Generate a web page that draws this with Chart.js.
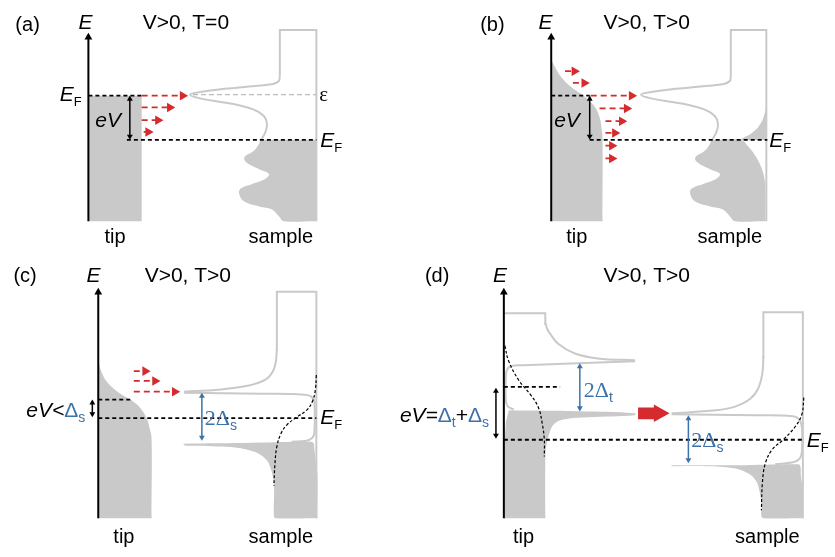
<!DOCTYPE html>
<html>
<head>
<meta charset="utf-8">
<script src="https://cdn.jsdelivr.net/npm/chart.js@4.4.1/dist/chart.umd.min.js"></script>
<style>
  html, body { margin: 0; padding: 0; background: #fff; }
  #wrap { width: 835px; height: 557px; }
</style>
</head>
<body>
<div id="wrap"><canvas id="dos" width="835" height="557"></canvas></div>
<script>
// ---- shapes, [x, y] in figure units (y grows downward) ----

// (a) V>0, T=0
const aTipFill = [[84,92],[138,92],[138,220],[84,220]];
const aSampleBox = [[278,72],[278,25],[315,25],[315,220]];
const aSampleDos = [[278,72],[277,77],[271,80],[253,82],[222,85],[199,88],[187,91],[198,95],[228,100],[251,106],[262,113],[265,121],[263,130],[259,137]];
const aSampleFill = [[258,137],[313,137],[315,137],[315,139],[315,218],[315,220],[313,220],[282,220],[277,215],[270,208],[257,205],[242,200],[237,193],[238,187],[250,182],[263,177],[267,172],[257,167],[244,160],[242,155],[252,148],[257,141]];
const aEpsLine = [[190,91],[315,91]];

// (b) V>0, T>0
const bTipFill = [[553,55],[557,63],[563,73],[573,83],[587,93],[597,103],[602,114],[604,125],[605,137],[605,218],[605,220],[603,220],[555,220],[553,220],[553,218]];
const bSampleBox = [[735,72],[735,25],[771,25],[771,220]];
const bSampleDos = [[735,72],[734,77],[728,80],[710,82],[679,85],[656,88],[644,91],[655,95],[685,100],[708,106],[719,113],[722,121],[720,130],[716,137]];
const bSampleFill = [[715,137],[745,137],[752,143],[759,152],[765,163],[769,176],[770,190],[770,218],[770,220],[768,220],[739,220],[734,215],[727,208],[714,205],[699,200],[694,193],[695,187],[707,182],[720,177],[724,172],[714,167],[701,160],[699,155],[709,148],[714,141]];
const bSampleTail = [[771,99],[770,107],[767,117],[762,125],[755,131],[745,137],[771,137]];

// (c) V>0, T>0, superconducting sample
const cTipFill = [[94,363],[97,373],[103,384],[115,395],[128,403],[137,411],[143,421],[146,431],[148,442],[148,521],[148,523],[146,523],[96,523],[94,523],[94,521]];
const cSampleBox = [[275,352],[275,292],[315,292],[315,523]];
const cSampleUpper = [[275,350],[274,363],[271,373],[263,382],[245,388],[215,392],[181,394]];
const cSampleGap = [[181,395],[260,396],[303,397],[310,399],[313,405],[313,436],[311,441],[305,444],[290,445]];
const cSampleFill = [[180,447],[250,446],[308,445],[312,446],[313,452],[314,462],[316,478],[316,521],[316,523],[314,523],[274,523],[272,521],[272,490],[269,473],[263,462],[248,454],[220,450],[182,449]];
const cSampleFermi = [[315,377],[314,392],[311,404],[305,413],[295,420],[285,428],[279,437],[275,450],[273,468],[272,490]];

// (d) V>0, T>0, superconducting tip and sample
const dTipBox = [[505,314],[547,314],[547,326]];
const dTipUpper = [[547,324],[549,330],[552,335],[560,345],[577,355],[600,360],[638,362]];
const dTipGap = [[638,363],[580,365],[525,367],[512,368],[508,372],[507,380],[507,403],[509,409],[515,412]];
const dTipFill = [[510,413],[580,414],[638,416],[638,418],[590,420],[567,422],[557,426],[552,434],[548,450],[547,468],[547,521],[547,523],[545,523],[507,523],[505,523],[505,455],[506,440],[507,425]];
const dTipFermi = [[506,347],[510,363],[520,382],[532,397],[540,410],[544,427],[546,443],[546,460]];
const dSampleBox = [[768,360],[768,313],[808,313],[808,523]];
const dSampleUpper = [[768,358],[767,375],[763,390],[755,401],[740,409],[720,413],[675,416]];
const dSampleGap = [[675,417],[760,418],[798,419],[804,422],[807,430],[807,455],[805,462],[798,466],[780,468]];
const dSampleFill = [[674,469],[740,469],[800,468],[805,469],[806,480],[808,495],[808,521],[808,523],[806,523],[768,523],[766,521],[766,510],[764,495],[760,484],[752,477],[738,472],[710,470],[676,470]];
const dSampleFermi = [[809,400],[807,417],[800,430],[788,443],[777,453],[770,467],[767,487],[766,515]];
const dBigArrow = [[641,410],[657,410],[657,407],[673,416],[657,425],[657,422],[641,422]];

// energy axes [x0, y0, x1, y1]
const energyAxes = [[84,220,84,28],[553,220,553,28],[94,523,94,288],[505,523,505,288]];
// black dashed levels [x0, x1, y]
const levelLines = [[84,138,92],[123,315,137],[553,592,92],[592,772,137],[94,128,402],[94,315,421],[505,562,389],[505,808,443]];
// eV double arrows [x0, y0, x1, y1]
const biasArrows = [[126,92,126,137],[592,92,592,137],[88,402,88,420],[497,390,497,442]];
// gap double arrows
const gapArrows = [[199,395,199,444],[582,365,582,414],[692,418,692,467]];
// tunnelling arrows [x0, x1, y]
const tunnelArrows = [
  [138,185,92],[138,172,104],[138,160,117],[140,150,129],
  [567,582,67],[575,592,79],[593,640,92],[602,635,105],[608,630,118],[608,623,130],[608,620,143],[608,620,156],
  [130,147,373],[130,157,383],[130,177,394]
];

const GRAY = "#c9c9c9";
const RED = "#d52a2e";
const BLUE = "#3c72aa";
const SANS = '"Liberation Sans", Arial, sans-serif';
const SERIF = '"Liberation Serif", "Times New Roman", serif';

const xy = (pts) => pts.map(([x, y]) => ({ x, y }));

function grayLine(pts, tension = 0) {
  return { data: xy(pts), borderColor: GRAY, borderWidth: 2, tension, pointRadius: 0, fill: false, order: 2 };
}

function dashLine(pts, color, width, dash, tension = 0) {
  return { data: xy(pts), borderColor: color, borderWidth: width, borderDash: dash, tension, pointRadius: 0, fill: false, order: 1 };
}

function area(pts, color = GRAY, tension = 0.4) {
  return { data: xy(pts), borderWidth: 0, borderColor: "transparent", backgroundColor: color, fill: "shape", tension, pointRadius: 0, order: 5 };
}

function arrow(x0, y0, x1, y1, color, opts = {}) {
  const r = opts.r || 4;
  const len = Math.hypot(x1 - x0, y1 - y0);
  const ux = (x1 - x0) / len, uy = (y1 - y0) / len;
  const rot = Math.atan2(ux, -uy) * 180 / Math.PI;
  const start = opts.both ? [x0 + ux * r, y0 + uy * r] : [x0, y0];
  return {
    data: xy([start, [x1 - ux * r, y1 - uy * r]]),
    borderColor: color,
    borderWidth: opts.width || 1.6,
    borderDash: opts.dash || [],
    pointRadius: [opts.both ? r : 0, r],
    pointRotation: [rot + 180, rot],
    pointStyle: "triangle",
    pointBackgroundColor: color,
    pointBorderWidth: 0,
    fill: false,
    order: 0,
  };
}

const datasets = [
  // fills
  area(aTipFill, GRAY, 0), area(aSampleFill), area(bTipFill), area(bSampleFill), area(bSampleTail, GRAY, 0.3),
  area(cTipFill), area(cSampleFill), area(dTipFill), area(dSampleFill),
  area(dBigArrow, RED, 0),
  // DOS outlines
  grayLine(aSampleBox), grayLine(aSampleDos, 0.4), grayLine(bSampleBox), grayLine(bSampleDos, 0.4),
  grayLine(cSampleBox), grayLine(cSampleUpper, 0.4), grayLine(cSampleGap, 0.4),
  grayLine(dTipBox), grayLine(dTipUpper, 0.4), grayLine(dTipGap, 0.4),
  grayLine(dSampleBox), grayLine(dSampleUpper, 0.4), grayLine(dSampleGap, 0.4),
  dashLine(aEpsLine, "#bdbdbd", 1.2, [5, 3]),
  // Fermi functions
  dashLine(cSampleFermi, "#000", 1.2, [3, 2], 0.4),
  dashLine(dTipFermi, "#000", 1.2, [3, 2], 0.4),
  dashLine(dSampleFermi, "#000", 1.2, [3, 2], 0.4),
  // Fermi levels
  ...levelLines.map(([x0, x1, y]) => dashLine([[x0, y], [x1, y]], "#000", 1.8, [4, 3])),
  // arrows
  ...energyAxes.map(([x0, y0, x1, y1]) => arrow(x0, y0, x1, y1, "#000", { r: 4.5, width: 2 })),
  ...biasArrows.map(([x0, y0, x1, y1]) => arrow(x0, y0, x1, y1, "#000", { r: 3.4, width: 1.5, both: true })),
  ...gapArrows.map(([x0, y0, x1, y1]) => arrow(x0, y0, x1, y1, BLUE, { r: 3.4, width: 1.5, both: true })),
  ...tunnelArrows.map(([x0, x1, y]) => arrow(x0, y, x1, y, RED, { r: 5.5, width: 1.8, dash: [6, 4] })),
];

// text runs: [x, baseline, align, [[text, style], ...]]
const STYLES = {
  n: { font: `20px ${SANS}`, color: "#000" },
  t: { font: `21px ${SANS}`, color: "#000" },
  i: { font: `italic 21px ${SANS}`, color: "#000" },
  sub: { font: `13px ${SANS}`, color: "#000", dy: 5 },
  eps: { font: `21px ${SERIF}`, color: "#000" },
  bd: { font: `21px ${SANS}`, color: BLUE },
  bs: { font: `22px ${SERIF}`, color: BLUE },
  bsub: { font: `14px ${SANS}`, color: BLUE, dy: 5 },
};

const annotations = [
  [10, 26, "left", [["(a)", "n"]]],
  [74, 24, "left", [["E", "i"]]],
  [139, 24, "left", [["V>0, T=0", "t"]]],
  [55, 97, "left", [["E", "i"], ["F", "sub"]]],
  [91, 124, "left", [["eV", "i"]]],
  [318, 97, "left", [["ε", "eps"]]],
  [319, 144, "left", [["E", "i"], ["F", "sub"]]],
  [111, 242, "center", [["tip", "n"]]],
  [279, 242, "center", [["sample", "n"]]],

  [481, 26, "left", [["(b)", "n"]]],
  [540, 24, "left", [["E", "i"]]],
  [606, 24, "left", [["V>0, T>0", "t"]]],
  [556, 124, "left", [["eV", "i"]]],
  [774, 144, "left", [["E", "i"], ["F", "sub"]]],
  [579, 242, "center", [["tip", "n"]]],
  [734, 242, "center", [["sample", "n"]]],

  [8, 282, "left", [["(c)", "n"]]],
  [82, 282, "left", [["E", "i"]]],
  [141, 282, "left", [["V>0, T>0", "t"]]],
  [21, 420, "left", [["eV<", "i"], ["Δ", "bd"], ["s", "bsub"]]],
  [202, 428, "left", [["2Δ", "bs"], ["s", "bsub"]]],
  [319, 427, "left", [["E", "i"], ["F", "sub"]]],
  [120, 548, "center", [["tip", "n"]]],
  [279, 548, "center", [["sample", "n"]]],

  [425, 282, "left", [["(d)", "n"]]],
  [494, 282, "left", [["E", "i"]]],
  [606, 282, "left", [["V>0, T>0", "t"]]],
  [490, 425, "right", [["eV=", "i"], ["Δ", "bd"], ["t", "bsub"], ["+", "t"], ["Δ", "bd"], ["s", "bsub"]]],
  [586, 399, "left", [["2Δ", "bs"], ["t", "bsub"]]],
  [695, 450, "left", [["2Δ", "bs"], ["s", "bsub"]]],
  [812, 450, "left", [["E", "i"], ["F", "sub"]]],
  [525, 548, "center", [["tip", "n"]]],
  [772, 548, "center", [["sample", "n"]]],
];

const textPlugin = {
  id: "figureText",
  afterDatasetsDraw(chart) {
    const { ctx, scales: { x, y } } = chart;
    ctx.save();
    ctx.textBaseline = "alphabetic";
    for (const [tx, ty, align, runs] of annotations) {
      let px = x.getPixelForValue(tx);
      const py = y.getPixelForValue(ty);
      let width = 0;
      runs.forEach(([text, s]) => { ctx.font = STYLES[s].font; width += ctx.measureText(text).width; });
      if (align === "center") px -= width / 2;
      if (align === "right") px -= width;
      for (const [text, s] of runs) {
        const st = STYLES[s];
        ctx.font = st.font;
        ctx.fillStyle = st.color;
        ctx.fillText(text, px, py + (st.dy || 0));
        px += ctx.measureText(text).width;
      }
    }
    ctx.restore();
  },
};

new Chart(document.getElementById("dos"), {
  type: "line",
  data: { datasets },
  options: {
    responsive: false,
    animation: false,
    events: [],
    layout: { padding: 0 },
    elements: { line: { capBezierPoints: false } },
    plugins: { legend: { display: false }, tooltip: { enabled: false } },
    scales: {
      x: { type: "linear", min: 0, max: 835, display: false },
      y: { type: "linear", min: 0, max: 557, reverse: true, display: false },
    },
  },
  plugins: [textPlugin],
});
</script>
</body>
</html>
